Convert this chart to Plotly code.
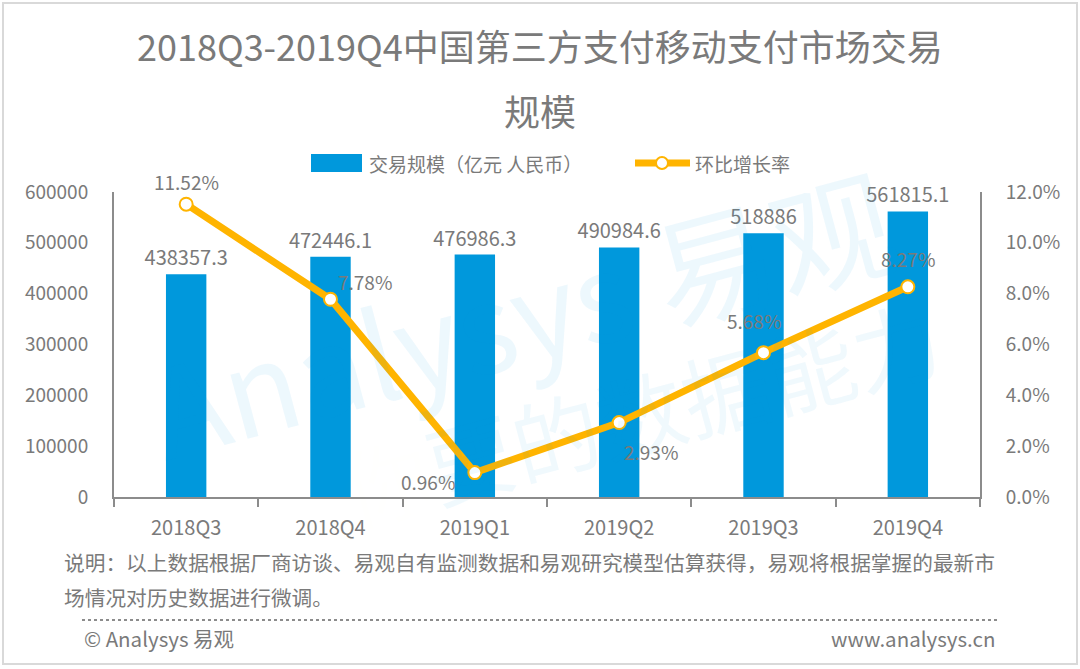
import plotly.graph_objects as go

# data
quarters = ['2018Q3', '2018Q4', '2019Q1', '2019Q2', '2019Q3', '2019Q4']
volume = [438357.3, 472446.1, 476986.3, 490984.6, 518886, 561815.1]
growth_pct = [11.52, 7.78, 0.96, 2.93, 5.68, 8.27]

volume_labels = [str(int(v)) if v == int(v) else str(v) for v in volume]
growth_labels = [f'{g:.2f}%' for g in growth_pct]
growth = [g / 100 for g in growth_pct]

# where each growth label sits relative to its marker (px)
label_shift = [(0, 23), (34, 18), (-47, -9), (32, -29), (-10, 32), (0, 28)]

FONT = 'Noto Sans CJK SC'
GREY = '#7a7a7a'
BLUE = '#0098dc'
GOLD = '#ffb400'

W, H = 1080, 669
L, R, T, B = 114, 100, 192, 172


def px(x):
    return (x - L) / (W - L - R)


def py(y):
    return (H - B - y) / (H - T - B)


fig = go.Figure()
fig.add_trace(go.Bar(
    x=quarters, y=volume, name='交易规模（亿元 人民币）',
    marker=dict(color=BLUE, line=dict(width=0)),
    width=0.28,
    text=volume_labels, textposition='outside', cliponaxis=False, constraintext='none',
    textfont=dict(family=FONT, size=20, color=GREY),
))
fig.add_trace(go.Scatter(
    x=quarters, y=growth, name='环比增长率', yaxis='y2',
    mode='lines+markers',
    line=dict(color=GOLD, width=7),
    marker=dict(size=13, color='white', line=dict(color=GOLD, width=2)),
    cliponaxis=False,
))

# faint watermark
annotations = [
    dict(text='Analysys 易观', x=px(520), y=py(310), textangle=-15,
         font=dict(size=122, color='rgba(0,152,220,0.07)')),
    dict(text='<span style="color:rgba(255,150,40,0.08)">你</span>要的数据能力', x=px(640), y=py(410),
         textangle=-15, font=dict(size=88, color='rgba(0,152,220,0.06)')),
]
annotations += [
    dict(text='2018Q3-2019Q4中国第三方支付移动支付市场交易', x=px(540), y=py(45),
         font=dict(size=36, color='#7a7a7a')),
    dict(text='规模', x=px(540), y=py(110), font=dict(size=36, color='#7a7a7a')),
    dict(text='交易规模（亿元 人民币）', x=px(367), y=py(163), xanchor='left',
         font=dict(size=19, color=GREY)),
    dict(text='环比增长率', x=px(693), y=py(163), xanchor='left', font=dict(size=19, color=GREY)),
    dict(text='说明：以上数据根据厂商访谈、易观自有监测数据和易观研究模型估算获得，易观将根据掌握的最新市',
         x=px(62), y=py(562), xanchor='left', font=dict(size=20.7, color=GREY)),
    dict(text='场情况对历史数据进行微调。', x=px(62), y=py(597), xanchor='left',
         font=dict(size=20.7, color=GREY)),
    dict(text='© Analysys 易观', x=px(82), y=py(638), xanchor='left', font=dict(size=20.5, color=GREY)),
    dict(text='www.analysys.cn', x=px(997), y=py(638), xanchor='right', font=dict(size=20.5, color=GREY)),
]
for a in annotations:
    a.update(xref='paper', yref='paper', showarrow=False, yanchor='middle')
    a.setdefault('xanchor', 'center')
    a['font']['family'] = FONT

# growth labels, placed at the data points
for q, g, lab, (dx, dy) in zip(quarters, growth, growth_labels, label_shift):
    annotations.append(dict(text=lab, x=q, y=g, xref='x', yref='y2', showarrow=False,
                            xshift=dx, yshift=dy, font=dict(family=FONT, size=19, color=GREY)))

fig.update_layout(
    width=W, height=H,
    margin=dict(l=L, r=R, t=T, b=B),
    paper_bgcolor='white', plot_bgcolor='white',
    font=dict(family=FONT, color=GREY),
    showlegend=False,
    xaxis=dict(showline=True, linecolor='#8c8c8c', linewidth=2, ticks='outside',
               tickson='boundaries', ticklen=8, tickcolor='#8c8c8c', tickwidth=1.5,
               tickfont=dict(size=20, color=GREY), ticklabelstandoff=12, showgrid=False),
    yaxis=dict(range=[0, 600000], dtick=100000, tickformat='d', showline=True,
               linecolor='#8c8c8c', linewidth=2, showgrid=False, zeroline=False,
               tickfont=dict(size=19, color=GREY), ticklabelstandoff=20),
    yaxis2=dict(range=[0, 0.12], dtick=0.02, tickformat='.1%', overlaying='y', side='right',
                showline=True, linecolor='#8c8c8c', linewidth=2, showgrid=False, zeroline=False,
                tickfont=dict(size=19, color=GREY), ticklabelstandoff=20),
    annotations=annotations,
    shapes=[
        dict(type='rect', xref='paper', yref='paper', x0=px(3), x1=px(1077), y0=py(664), y1=py(3),
             line=dict(color='#d9d9d9', width=2), layer='below'),
        dict(type='line', xref='paper', yref='paper', x0=px(82), x1=px(997), y0=py(620), y1=py(620),
             line=dict(color='#8c8c8c', width=2, dash='dot')),
        # legend keys
        dict(type='rect', xref='paper', yref='paper', x0=px(311), x1=px(362), y0=py(172), y1=py(154),
             fillcolor=BLUE, line=dict(width=0)),
        dict(type='line', xref='paper', yref='paper', x0=px(635), x1=px(690), y0=py(163), y1=py(163),
             line=dict(color=GOLD, width=7)),
        dict(type='circle', xref='paper', yref='paper', x0=px(656), x1=px(668), y0=py(169), y1=py(157),
             fillcolor='white', line=dict(color=GOLD, width=2)),
    ],
)

fig.write_html('out.html', config={'displayModeBar': False},
               post_script="document.body.style.margin='0';")
